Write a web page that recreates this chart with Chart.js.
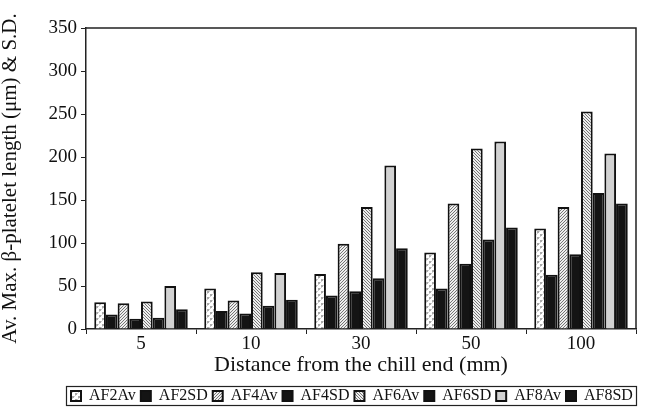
<!DOCTYPE html>
<html>
<head>
<meta charset="utf-8">
<script src="https://cdn.jsdelivr.net/npm/chart.js@4/dist/chart.umd.min.js"></script>
<style>
  html, body { margin: 0; padding: 0; background: #fff; }
  #wrap { width: 649px; height: 414px; }
</style>
</head>
<body>
<div id="wrap"><canvas id="platelet_chart"></canvas></div>
<script>
// distance from chill end (mm)
var distances = ['5', '10', '30', '50', '100'];

var af2_av = [31, 47, 64, 89, 117];
var af2_sd = [17, 21, 39, 47, 63];
var af4_av = [30, 33, 99, 146, 142];
var af4_sd = [12, 18, 44, 76, 87];
var af6_av = [32, 66, 142, 210, 253];
var af6_sd = [13, 27, 59, 104, 158];
var af8_av = [50, 65, 190, 218, 204];
var af8_sd = [23, 34, 94, 118, 146];

var y_ticks = [0, 50, 100, 150, 200, 250, 300, 350];

var serif = "'Liberation Serif', 'Times New Roman', serif";

// little fill tiles for the average bars
function makePattern(kind){
	var c = document.createElement('canvas');
	var ctx = c.getContext('2d');
	if(kind == 'cross'){
		c.width = 6; c.height = 6;
		ctx.fillStyle = '#fff';
		ctx.fillRect(0, 0, 6, 6);
		ctx.fillStyle = '#aaa';
		ctx.fillRect(0, 0, 2, 2);
		ctx.fillRect(3, 3, 2, 2);
		ctx.fillStyle = '#d0d0d0';
		ctx.fillRect(2, 0, 1, 1);
		ctx.fillRect(0, 2, 1, 1);
		ctx.fillRect(5, 3, 1, 1);
		ctx.fillRect(3, 5, 1, 1);
	} else {
		c.width = 3; c.height = 3;
		ctx.fillStyle = '#eee';
		ctx.fillRect(0, 0, 3, 3);
		ctx.fillStyle = '#777';
		for(var i = 0; i < 3; i++){
			var x = kind == 'up' ? 2 - i : i;
			ctx.fillRect(x, i, 1, 1);
		}
	}
	return c.getContext('2d').createPattern(c, 'repeat');
}

var sd_color = '#141414';

function series(label, data, fill){
	return {
		label: label,
		data: data,
		backgroundColor: fill,
		borderColor: '#111',
		borderWidth: 2,
		borderSkipped: 'bottom'
	};
}

// frame round the plot area and round the legend
var framePlugin = {
	id: 'frames',
	afterLayout: function(chart){
		// move the legend row so it starts just inside its box
		var lg = chart.legend;
		var lw = lg.lineWidths[0];
		var pad = lg.options.labels.padding;
		lg.right = 649;
		lg.left = 2 * 71 - pad - 649 + lw;
	},
	afterDraw: function(chart){
		var ctx = chart.ctx;
		var a = chart.chartArea;
		ctx.save();
		ctx.strokeStyle = '#222';
		ctx.lineWidth = 1.5;
		ctx.beginPath();
		ctx.moveTo(a.left, a.top);
		ctx.lineTo(a.right, a.top);
		ctx.lineTo(a.right, a.bottom);
		ctx.stroke();
		var hb = chart.legend.legendHitBoxes[0];
		var cy = Math.round(hb.top + hb.height / 2);
		ctx.lineWidth = 1.2;
		ctx.strokeRect(66.5, cy - 9.5, 570, 19);
		ctx.restore();
	}
};

var platelet_chart = new Chart(document.getElementById('platelet_chart'), {
	type: 'bar',
	data: {
		labels: distances,
		datasets: [
			series('AF2Av', af2_av, makePattern('cross')),
			series('AF2SD', af2_sd, sd_color),
			series('AF4Av', af4_av, makePattern('up')),
			series('AF4SD', af4_sd, sd_color),
			series('AF6Av', af6_av, makePattern('down')),
			series('AF6SD', af6_sd, sd_color),
			series('AF8Av', af8_av, '#d2d2d2'),
			series('AF8SD', af8_sd, sd_color)
		]
	},
	options: {
		responsive: true,
		maintainAspectRatio: false,
		animation: false,
		devicePixelRatio: 1,
		layout: { padding: { top: 28, right: 13, bottom: 0, left: 0 } },
		datasets: {
			bar: { categoryPercentage: 0.85, barPercentage: 1.0 }
		},
		plugins: {
			tooltip: { enabled: false },
			legend: {
				position: 'bottom',
				labels: {
					color: '#111',
					font: { family: serif, size: 16, lineHeight: 1 },
					boxWidth: 10,
					boxHeight: 10,
					padding: 5
				}
			}
		},
		scales: {
			x: {
				offset: true,
				grid: {
					offset: true,
					drawOnChartArea: false,
					drawTicks: true,
					tickLength: 5,
					color: '#222'
				},
				border: { color: '#222', width: 1.5 },
				ticks: {
					color: '#111',
					font: { family: serif, size: 19, lineHeight: 1 },
					padding: 1
				},
				title: {
					display: true,
					text: 'Distance from the chill end (mm)',
					color: '#111',
					font: { family: serif, size: 22, lineHeight: 1 },
					padding: { top: 2, bottom: 7 }
				},
				afterFit: function(s){ s.height = 54; }
			},
			y: {
				min: 0,
				max: 350,
				afterBuildTicks: function(s){
					s.ticks = y_ticks.map(function(v){ return { value: v }; });
				},
				grid: {
					drawOnChartArea: false,
					drawTicks: true,
					tickLength: 5,
					color: '#222'
				},
				border: { color: '#222', width: 1.5 },
				ticks: {
					color: '#111',
					font: { family: serif, size: 19 },
					padding: 4
				},
				title: {
					display: true,
					text: 'Av. Max. β-platelet length (μm) & S.D.',
					color: '#111',
					font: { family: serif, size: 21, lineHeight: 1 },
					padding: { top: 0, bottom: 4 }
				},
				afterFit: function(s){ s.width = 86; }
			}
		}
	},
	plugins: [framePlugin]
});
</script>
</body>
</html>
